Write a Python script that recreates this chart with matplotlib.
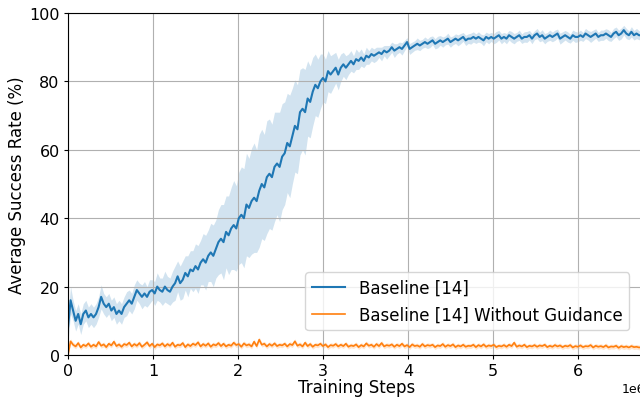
import numpy as np
import matplotlib
matplotlib.use("Agg")
import matplotlib.pyplot as plt

# training steps (in units of 1e6), spacing 0.03e6
step_millions = [round(i * 0.03, 2) for i in range(226)]

baseline_mean = [
    8, 16, 13, 10, 12, 9, 12, 13, 11, 12,
    11, 12, 14, 17, 15, 14, 15, 13, 14, 12,
    13, 12, 14, 15, 16, 15, 17, 19, 18, 17,
    18, 17, 18.5, 19, 18, 20, 19, 18.5, 20, 19,
    18.5, 20, 21, 23, 21, 22, 24, 23, 25, 24.5,
    26, 25, 27, 28, 27, 29, 30, 29, 31, 33,
    34, 33, 36, 35, 37, 38, 37, 40, 41, 40,
    44, 43, 45, 46, 45, 48, 50, 49, 52, 53,
    52, 55, 56, 55, 58, 59, 62, 61, 64, 67,
    66, 71, 72, 71, 75, 74, 77, 79, 78, 80,
    81, 80, 83, 82, 83, 84, 82, 84, 85, 84,
    85, 86, 85, 86.5, 86, 87, 86, 87.5, 87, 88,
    87.5, 88, 88.5, 88, 89, 88.5, 89, 90, 89, 89.5,
    90, 89.5, 90.5, 91.5, 89.5, 90, 90.5, 91, 90.5, 91,
    91.5, 91, 91.5, 92, 91, 91.5, 92, 91.5, 92, 92.5,
    91.5, 92, 92.5, 92, 92.5, 93, 92, 92.5, 92.5, 93,
    92.5, 93, 92.5, 92, 93, 92.5, 93, 92.5, 93, 93.5,
    92.5, 93, 92.5, 93.5, 93, 92.5, 93, 93.5, 92.5, 93,
    93, 93.5, 92.5, 93.5, 94, 93, 93.5, 92.5, 93, 93.5,
    93, 93.5, 94, 92.5, 93, 93.5, 93, 92.5, 93.5, 93,
    93, 93.5, 93, 94, 93.5, 93, 93.5, 94, 93, 93.5,
    93.5, 94, 93.5, 93, 94, 94.5, 93.5, 94, 95, 94,
    93.5, 94.5, 93.5, 94, 93.5, 93.5,
]

baseline_std = [
    4, 4, 3, 3, 3, 3, 3, 3, 3, 3,
    3, 3, 3, 3.5, 3, 3, 3, 3, 3, 3,
    3, 3, 3, 3.5, 3, 3, 3.5, 3, 3, 3.5,
    3.5, 3, 3.5, 3, 3.5, 4, 3.5, 4, 4.5, 4,
    4, 4.5, 5, 4.5, 5, 5.5, 5, 6, 5.5, 6,
    6.5, 7, 6.5, 7.5, 8, 7.5, 8.5, 9, 8.5, 9.5,
    10, 11, 10.5, 11.5, 12, 13, 12.5, 13.5, 14, 14.5,
    15, 14.5, 15.5, 16, 15, 16.5, 16, 15.5, 16.5, 16,
    15.5, 16, 15, 16, 15.5, 15, 14.5, 15, 14, 13.5,
    13, 12.5, 12, 12.5, 11, 10.5, 10, 9, 8.5, 8,
    7, 6.5, 6, 5.5, 5, 4.5, 4.5, 4, 3.5, 3.5,
    3, 3, 2.5, 3, 2.5, 2.5, 2, 2.5, 2, 2,
    2, 2, 1.5, 2, 1.5, 2, 1.5, 1.5, 2, 1.5,
    1.5, 1.8, 1.5, 1.3, 1.6, 1.5, 1.4, 1.7, 1.5, 1.3,
    1.5, 1.4, 1.6, 1.3, 1.5, 1.7, 1.4, 1.5, 1.3, 1.6,
    1.5, 1.3, 1.4, 1.6, 1.5, 1.3, 1.5, 1.4, 1.6, 1.5,
    1.4, 1.5, 1.3, 1.6, 1.4, 1.5, 1.3, 1.5, 1.6, 1.4,
    1.5, 1.3, 1.5, 1.4, 1.6, 1.5, 1.3, 1.5, 1.4, 1.5,
    1.6, 1.4, 1.5, 1.3, 1.5, 1.4, 1.6, 1.5, 1.3, 1.5,
    1.4, 1.5, 1.3, 1.6, 1.5, 1.4, 1.5, 1.3, 1.5, 1.6,
    1.4, 1.5, 1.3, 1.5, 1.4, 1.6, 1.5, 1.4, 1.3, 1.5,
    1.5, 1.4, 1.6, 1.3, 1.5, 1.4, 1.5, 1.6, 1.4, 1.5,
    1.3, 1.5, 1.4, 1.5, 1.3, 1.4,
]

noguide_mean = [
    0, 4, 3, 2.5, 3.5, 2.2, 3, 2.6, 3.4, 2.4,
    3, 2.5, 3.8, 2.7, 3.1, 2.3, 3.3, 2.8, 3.9, 2.6,
    3.1, 2.4, 3.2, 2.9, 3.6, 2.5, 3.2, 2.7, 3.5, 2.4,
    3.0, 3.7, 2.6, 3.3, 2.3, 3.1, 2.8, 3.4, 2.5, 3.2,
    2.7, 3.6, 2.4, 3.0, 2.8, 3.5, 2.3, 3.1, 2.6, 3.3,
    2.9, 3.7, 2.5, 3.2, 2.7, 3.4, 2.4, 3.1, 2.8, 3.5,
    2.6, 3.3, 2.5, 3.0, 2.7, 3.6, 2.9, 3.2, 2.4, 3.4,
    2.8, 3.1, 2.5, 3.9, 2.6, 4.5, 3.0, 3.3, 2.5, 3.2,
    2.7, 3.4, 2.6, 3.0, 2.8, 3.3, 2.5, 3.2, 2.9, 4.0,
    2.7, 3.1, 2.5, 3.6, 2.6, 3.2, 2.4, 3.0, 2.8, 3.3,
    2.6, 3.1, 2.3, 2.9, 2.7, 3.2, 2.5, 3.0, 2.6, 3.3,
    2.4, 2.8, 2.6, 3.1, 2.3, 2.9, 2.5, 3.4, 2.7, 3.0,
    2.4, 3.2, 2.6, 3.5, 2.5, 2.9, 2.7, 3.1, 2.4, 3.0,
    2.6, 3.3, 2.5, 2.9, 2.3, 3.1, 2.6, 2.8, 2.4, 3.2,
    2.5, 2.9, 2.7, 3.0, 2.3, 2.8, 2.6, 3.2, 2.4, 2.9,
    2.6, 3.1, 2.3, 2.8, 2.5, 3.0, 2.4, 2.7, 2.6, 3.0,
    2.3, 2.9, 2.5, 3.1, 2.4, 2.8, 2.6, 3.0, 2.3, 2.7,
    2.5, 2.9, 2.4, 3.0, 2.6, 3.6, 2.4, 2.8, 2.5, 3.0,
    2.3, 2.7, 2.5, 2.9, 2.4, 2.8, 2.6, 3.0, 2.3, 2.7,
    2.4, 2.9, 2.5, 2.8, 2.3, 2.7, 2.5, 2.9, 2.2, 2.6,
    2.4, 2.8, 2.3, 2.6, 2.5, 2.9, 2.2, 2.7, 2.4, 2.6,
    2.3, 2.8, 2.2, 2.5, 2.4, 2.7, 2.1, 2.6, 2.3, 2.5,
    2.2, 2.6, 2.3, 2.4, 2.2, 2.3,
]

noguide_std = [0.0] + [0.7] * 225

labels = ["Baseline [14]", "Baseline [14] Without Guidance"]
colors = ["#1f77b4", "#ff7f0e"]

x = np.array(step_millions) * 1e6
b = np.array(baseline_mean)
bs = np.array(baseline_std)
o = np.array(noguide_mean)
os_ = np.array(noguide_std)

fig = plt.figure(figsize=(6.4, 4.02), dpi=100)
ax = fig.add_axes([68 / 640, 46 / 402, 577 / 640, 342 / 402])

ax.fill_between(x, b - bs, b + bs, color=colors[0], alpha=0.2, linewidth=0)
ax.plot(x, b, color=colors[0], linewidth=1.5, label=labels[0])
ax.fill_between(x, o - os_, o + os_, color=colors[1], alpha=0.2, linewidth=0)
ax.plot(x, o, color=colors[1], linewidth=1.2, label=labels[1])

ax.set_xlim(0, 6.79e6)
ax.set_ylim(0, 100)
ax.grid(True, color="#b0b0b0", linewidth=0.8)
ax.tick_params(labelsize=11.5, length=3, pad=3)
ax.xaxis.get_offset_text().set_fontsize(9)
ax.set_xlabel("Training Steps", fontsize=12, labelpad=0)
ax.set_ylabel("Average Success Rate (%)", fontsize=12, labelpad=2)

ax.legend(fontsize=12, loc="lower right",
          bbox_to_anchor=((629 - 68) / 577, (356 - 331) / 342),
          borderaxespad=0)

fig.savefig("out.png", dpi=100)
